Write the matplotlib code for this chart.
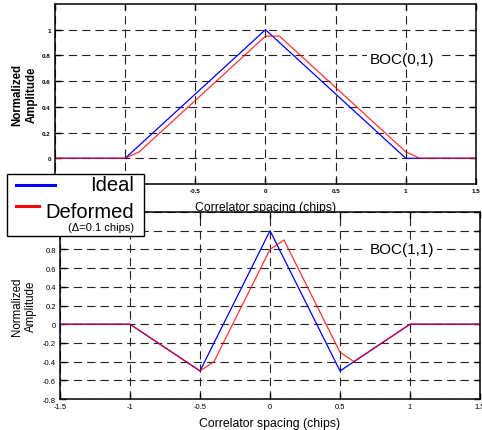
import numpy as np
import matplotlib.pyplot as plt
from matplotlib.patches import Rectangle
from matplotlib.lines import Line2D

plt.rcParams['font.family'] = ['Liberation Sans', 'DejaVu Sans']

# BOC(0,1) correlation: ideal and deformed (lag 0.1 chips)
x_boc01 = [-1.5, -1.0, 0.0, 1.0, 1.5]
ideal_boc01 = [0, 0, 1.0, 0, 0]
xd_boc01 = [-1.5, -1.0, -0.9, 0.0, 0.1, 1.0, 1.1, 1.5]
deformed_boc01 = [0, 0, 0.05, 0.95, 0.95, 0.05, 0, 0]

# BOC(1,1) correlation
x_boc11 = [-1.5, -1.0, -0.5, 0.0, 0.5, 1.0, 1.5]
ideal_boc11 = [0, 0, -0.5, 1.0, -0.5, 0, 0]
xd_boc11 = [-1.5, -1.0, -0.5, -0.4, 0.0, 0.1, 0.5, 0.6, 1.0, 1.5]
deformed_boc11 = [0, 0, -0.5, -0.4, 0.8, 0.9, -0.3, -0.4, 0, 0]

xticks = [-1.5, -1, -0.5, 0, 0.5, 1, 1.5]
# labels under the legend box are left blank
xtick_labels_top = ['', '', '-0.5', '0', '0.5', '1', '1.5']
xtick_labels_bot = ['-1.5', '-1', '-0.5', '0', '0.5', '1', '1.5']
yticks_top = [0, 0.2, 0.4, 0.6, 0.8, 1.0]
ytick_labels_top = ['0', '0.2', '0.4', '0.6', '0.8', '1']
yticks_bot = [-0.8, -0.6, -0.4, -0.2, 0, 0.2, 0.4, 0.6, 0.8, 1.0, 1.2]
ytick_labels_bot = ['-0.8', '-0.6', '-0.4', '-0.2', '0', '0.2', '0.4', '0.6', '0.8', '', '']

fig = plt.figure(figsize=(4.82, 4.31), dpi=100)
ax1 = fig.add_axes([0.1141, 0.5708, 0.8734, 0.4176])
ax2 = fig.add_axes([0.1245, 0.0719, 0.8714, 0.4339])

grid_style = dict(color='#222222', linestyle=(0, (7.5, 4.5)), linewidth=0.8)

def style_axes(ax, ylim, xlabels, yticks, ylabels, tick_size, tick_weight):
    ax.set_xlim(-1.5, 1.5)
    ax.set_ylim(*ylim)
    ax.set_xticks(xticks)
    ax.set_xticklabels(xlabels, fontsize=tick_size, fontweight=tick_weight)
    ax.set_yticks(yticks)
    ax.set_yticklabels(ylabels, fontsize=tick_size, fontweight=tick_weight)
    ax.tick_params(direction='in', length=4, width=1, top=True, right=True, pad=3)
    ax.grid(True, **grid_style)
    for s in ax.spines.values():
        s.set_linewidth(1.1)

# top panel
ax1.plot(x_boc01, ideal_boc01, color='blue', lw=0.9)
ax1.plot(xd_boc01, deformed_boc01, color='red', lw=0.9, alpha=0.8)
style_axes(ax1, (-0.2, 1.2), xtick_labels_top, yticks_top, ytick_labels_top, 4.5, 'bold')
ax1.set_ylabel('Normalized\nAmplitude', fontsize=8.3, fontweight='bold', labelpad=3, linespacing=1.3)
ax1.set_xlabel('Correlator spacing (chips)', fontsize=8.8, labelpad=6)
ax1.text(0.976, 0.77, 'BOC(0,1)', fontsize=11, ha='center', va='center',
         bbox=dict(facecolor='white', edgecolor='none', pad=2))

# bottom panel
ax2.plot(x_boc11, ideal_boc11, color='blue', lw=0.9)
ax2.plot(xd_boc11, deformed_boc11, color='red', lw=0.9, alpha=0.8)
style_axes(ax2, (-0.8, 1.2), xtick_labels_bot, yticks_bot, ytick_labels_bot, 5.5, 'normal')
ax2.set_ylabel('Normalized\nAmplitude', fontsize=8.3, labelpad=4, linespacing=1.3)
ax2.set_xlabel('Correlator spacing (chips)', fontsize=8.8, labelpad=5)
ax2.text(0.946, 0.8, 'BOC(1,1)', fontsize=11, ha='center', va='center',
         bbox=dict(facecolor='white', edgecolor='none', pad=2))

# legend box drawn over both panels
W, H = 482.0, 431.0
def fx(px):
    return px / W
def fy(py):
    return 1 - py / H

fig.patches.append(Rectangle((fx(7), fy(237)), fx(137), 62 / H, transform=fig.transFigure,
                             facecolor='white', edgecolor='black', linewidth=1.0, zorder=10))
fig.lines.append(Line2D([fx(16), fx(55)], [fy(186), fy(186)], transform=fig.transFigure,
                        color='blue', lw=2.2, zorder=11))
fig.lines.append(Line2D([fx(16), fx(39)], [fy(207), fy(207)], transform=fig.transFigure,
                        color='red', lw=2.2, zorder=11))
fig.text(fx(134), fy(186), 'Ideal', fontsize=14.5, ha='right', va='center', zorder=12)
fig.text(fx(134), fy(212), 'Deformed', fontsize=14.5, ha='right', va='center', zorder=12)
fig.text(fx(134), fy(228), '(\u0394=0.1 chips)', fontsize=8, ha='right', va='center', zorder=12)

fig.savefig('out.png', dpi=100)
